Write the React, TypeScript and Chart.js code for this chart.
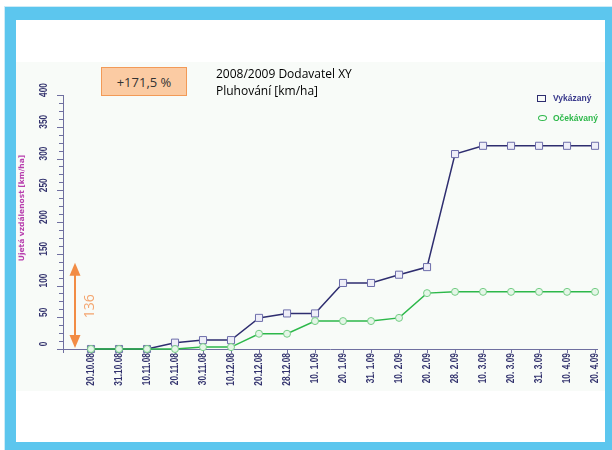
import React, { useEffect, useRef } from "react";
import { Chart, registerables } from "chart.js";

Chart.register(...registerables);

const categories = [
  "20.10.08", "31.10.08", "10.11.08", "20.11.08", "30.11.08", "10.12.08",
  "20.12.08", "28.12.08", "10. 1.09", "20. 1.09", "31. 1.09", "10. 2.09",
  "20. 2.09", "28. 2.09", "10. 3.09", "20. 3.09", "31. 3.09", "10. 4.09", "20. 4.09",
];
const vykazany = [0, 0, 0, 10, 14, 14, 49, 56, 56, 104, 104, 117, 129, 307, 320, 320, 320, 320, 320];
const ocekavany = [0, 0, 0, 0, 3, 3, 24, 24, 44, 44, 44, 49, 88, 90, 90, 90, 90, 90, 90];
const yTickValues = [0, 50, 100, 150, 200, 250, 300, 350, 400];
const seriesNames = ["Vykázaný", "Očekávaný"];
const titleLines = ["2008/2009 Dodavatel XY", "Pluhování [km/ha]"];
const yAxisTitle = "Ujetá vzdálenost [km/ha]";
const percentLabel = "+171,5 %";
const arrowValue = 136;

const NAVY = "#2E2D6F";
const LABEL = "#33336E";
const AXIS = "#6F6FA0";
const GREEN = "#2DB84A";
const ORANGE = "#F28C45";
const TICK_FONT = 'bold 10.5px "Liberation Sans", Arial, sans-serif';

const decor = {
  id: "decor",
  afterDraw(chart: any) {
    const ctx = chart.ctx as CanvasRenderingContext2D;
    const y = chart.scales.y;
    const x = chart.scales.x;
    const left = chart.chartArea.left;
    ctx.save();
    // y minor/major ticks
    ctx.strokeStyle = AXIS;
    ctx.lineWidth = 1;
    for (let v = 0; v <= 400; v += 12.5) {
      const py = Math.round(y.getPixelForValue(v)) + 0.5;
      const major = v % 50 === 0;
      ctx.beginPath();
      ctx.moveTo(left - (major ? 6 : 4), py);
      ctx.lineTo(left, py);
      ctx.stroke();
    }
    // y labels (rotated, condensed)
    ctx.fillStyle = LABEL;
    ctx.font = TICK_FONT;
    ctx.textAlign = "center";
    ctx.textBaseline = "middle";
    yTickValues.forEach((v) => {
      const py = y.getPixelForValue(v) - 5;
      ctx.save();
      ctx.translate(44, py);
      ctx.rotate(-Math.PI / 2);
      ctx.scale(0.8, 1);
      ctx.fillText(String(v), 0, 0);
      ctx.restore();
    });
    // x labels (rotated, condensed)
    ctx.textAlign = "right";
    categories.forEach((c, i) => {
      const px = x.getPixelForValue(i);
      ctx.save();
      ctx.translate(px + 0.5, x.top + 4);
      ctx.rotate(-Math.PI / 2);
      ctx.scale(0.8, 1);
      ctx.fillText(c, 0, 0);
      ctx.restore();
    });
    // y axis title
    ctx.save();
    ctx.textAlign = "center";
    ctx.fillStyle = "#B83FAE";
    ctx.font = 'bold 7.5px "DejaVu Sans", sans-serif';
    ctx.translate(22, 208);
    ctx.rotate(-Math.PI / 2);
    ctx.fillText(yAxisTitle, 0, 0);
    ctx.restore();
    // orange double arrow from 0 to arrowValue
    const ax = 75;
    const y0 = y.getPixelForValue(0) - 1;
    const y1 = y.getPixelForValue(arrowValue);
    ctx.strokeStyle = ORANGE;
    ctx.fillStyle = ORANGE;
    ctx.lineWidth = 2;
    ctx.beginPath();
    ctx.moveTo(ax, y1 + 10);
    ctx.lineTo(ax, y0 - 10);
    ctx.stroke();
    ctx.beginPath();
    ctx.moveTo(ax, y1);
    ctx.lineTo(ax - 5.5, y1 + 13);
    ctx.lineTo(ax + 5.5, y1 + 13);
    ctx.closePath();
    ctx.fill();
    ctx.beginPath();
    ctx.moveTo(ax, y0);
    ctx.lineTo(ax - 5.5, y0 - 13);
    ctx.lineTo(ax + 5.5, y0 - 13);
    ctx.closePath();
    ctx.fill();
    ctx.save();
    ctx.fillStyle = "#F4A56F";
    ctx.font = '14px "Open Sans", sans-serif';
    ctx.textAlign = "center";
    ctx.textBaseline = "middle";
    ctx.translate(90, (y0 + y1) / 2 + 1);
    ctx.rotate(-Math.PI / 2);
    ctx.fillText(String(arrowValue), 0, 0);
    ctx.restore();
    ctx.restore();
  },
};

export default function App() {
  const ref = useRef<HTMLCanvasElement | null>(null);

  useEffect(() => {
    if (!ref.current) return;
    const chart = new Chart(ref.current, {
      type: "line",
      data: {
        datasets: [
          {
            label: seriesNames[1],
            data: ocekavany.map((v, i) => ({ x: i, y: v })),
            borderColor: GREEN,
            borderWidth: 1.5,
            pointStyle: "circle",
            pointRadius: 3.5,
            pointBorderWidth: 1,
            pointBorderColor: "#74CC84",
            pointBackgroundColor: "#E4F6E7",
            tension: 0,
            clip: false as any,
          },
          {
            label: seriesNames[0],
            data: vykazany.map((v, i) => ({ x: i, y: v })),
            borderColor: NAVY,
            borderWidth: 1.5,
            pointStyle: "rect",
            pointRadius: 5,
            pointBorderWidth: 1,
            pointBorderColor: "#6D6DAA",
            pointBackgroundColor: "#EEEEF8",
            tension: 0,
            clip: false as any,
          },
        ],
      },
      options: {
        animation: false,
        responsive: false,
        devicePixelRatio: 1,
        layout: { padding: { left: 0, right: 15, top: 95, bottom: 0 } },
        plugins: { legend: { display: false }, tooltip: { enabled: false }, title: { display: false } },
        scales: {
          x: {
            type: "linear",
            min: -1,
            max: 18.07,
            grid: { display: true, drawOnChartArea: false, drawTicks: true, tickLength: 4, color: AXIS },
            border: { display: true, color: AXIS, width: 1 },
            ticks: {
              display: false,
              stepSize: 1,
              includeBounds: false,
              autoSkip: false,
            },
            afterFit: (s: any) => {
              s.height = 101;
            },
          },
          y: {
            type: "linear",
            min: 0,
            max: 400,
            grid: { display: true, drawOnChartArea: false, drawTicks: false },
            border: { display: true, color: AXIS, width: 1 },
            ticks: { display: false, stepSize: 50 },
            afterFit: (s: any) => {
              s.width = 63;
            },
          },
        },
      } as any,
      plugins: [decor],
    });
    return () => chart.destroy();
  }, []);

  const abs = (o: React.CSSProperties): React.CSSProperties => ({ position: "absolute", ...o });

  return (
    <div style={{ position: "fixed", left: 0, top: 0, width: 612, height: 450, background: "#FFFFFF", overflow: "hidden" }}>
      <div style={abs({ left: 4, top: 6, width: 608, height: 444, background: "#5CC6EE", boxShadow: "inset 1px 1px 0 #CDEBF7" })} />
      <div style={abs({ left: 16, top: 20, width: 589, height: 422, background: "#FFFFFF" })} />
      <div style={abs({ left: 16, top: 62, width: 589, height: 329, background: "#F8FBF8" })} />
      <canvas ref={ref} width={612} height={450} style={abs({ left: 0, top: 0, width: 612, height: 450 })} />
      <div
        style={abs({
          left: 101, top: 67, width: 84, height: 27, background: "#FBCBA3", border: "1px solid #F29A57",
          font: '13px "Open Sans", sans-serif', color: "#333", display: "flex", alignItems: "center", justifyContent: "center",
        })}
      >
        {percentLabel}
      </div>
      <div style={abs({ left: 216, top: 65, font: '12px "Open Sans", sans-serif', lineHeight: "17px", color: "#000" })}>
        {titleLines.map((t) => (
          <div key={t}>{t}</div>
        ))}
      </div>
      <div style={abs({ left: 537, top: 95, width: 7, height: 5, border: `1.5px solid ${NAVY}` })} />
      <div style={abs({ left: 553, top: 91, font: 'bold 8.5px "Liberation Sans", Arial, sans-serif', color: "#3A3A8C", lineHeight: "14px" })}>
        {seriesNames[0]}
      </div>
      <div style={abs({ left: 538, top: 115, width: 7, height: 4, borderRadius: "50%", border: `1.5px solid ${GREEN}` })} />
      <div style={abs({ left: 553, top: 111, font: 'bold 8.5px "Liberation Sans", Arial, sans-serif', color: GREEN, lineHeight: "14px" })}>
        {seriesNames[1]}
      </div>
    </div>
  );
}
